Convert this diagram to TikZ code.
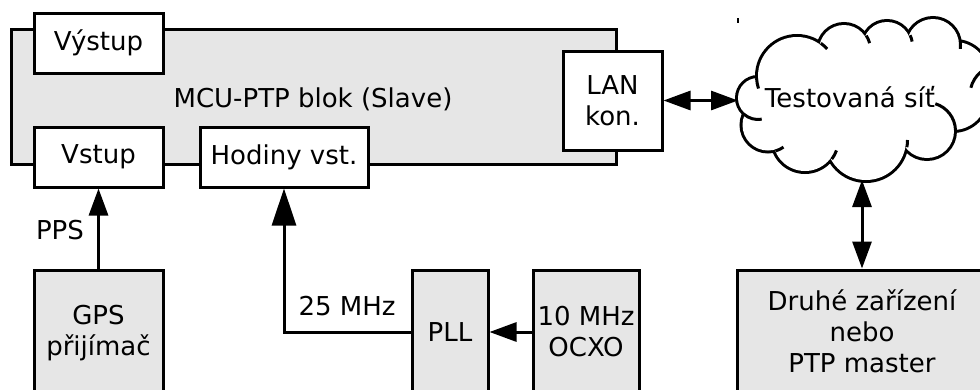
\documentclass[tikz,border=0pt]{standalone}
\usepackage{fontspec}
\setmainfont{DejaVu Sans}
\usetikzlibrary{arrows.meta}
\definecolor{blockgray}{HTML}{E6E6E6}
\begin{document}
\begin{tikzpicture}[x=1pt,y=-1pt,
  font=\fontsize{26}{31}\selectfont,
  box/.style={draw=black,line width=3pt,fill=white,inner sep=0pt,align=center},
  graybox/.style={box,fill=blockgray},
  arr/.style={line width=3pt,-{Triangle[length=27pt,width=19pt]}},
  bigarr/.style={line width=3pt,-{Triangle[length=37pt,width=24pt]}},
  darr/.style={line width=3pt,{Triangle[length=27pt,width=19pt]}-{Triangle[length=27pt,width=19pt]}},
  lbl/.style={inner sep=0pt},
  cloudline/.style={line width=3pt}]
\useasboundingbox (0,0) rectangle (980,389);
\clip (0,0) rectangle (980,389);

% MCU block
\node[graybox, minimum width=605pt, minimum height=135pt] (mcu) at (313.5,96.5) {};
\node[lbl] (mculbl) at (313,99) {MCU-PTP blok (Slave)};
\node[box, minimum width=129pt, minimum height=60pt] (vystup) at (98.5,43) {Výstup};
\node[box, minimum width=129pt, minimum height=60pt] (vstup) at (98.5,157) {Vstup};
\node[box, minimum width=168pt, minimum height=60pt] (hodiny) at (284,157) {Hodiny vst.};
\node[box, minimum width=99pt, minimum height=99pt] (lan) at (612.5,100.5) {LAN\\kon.};

% lower blocks
\node[graybox, minimum width=129pt, minimum height=126pt] (gps) at (98.5,333) {GPS\\přijímač};
\node[graybox, minimum width=76pt, minimum height=124pt] (pll) at (450,332) {PLL};
\node[graybox, minimum width=106pt, minimum height=124pt] (ocxo) at (586,332) {10 MHz\\OCXO};
\node[graybox, minimum width=250pt, minimum height=122pt] (druhe) at (862,331) {Druhé zařízení\\nebo\\PTP master};

% cloud
\foreach \cx/\cy/\r in {758/98/20, 797/76/39, 844/50/25, 887/46/24, 933/45/26, 955/75/33,
                        953/96/34, 927/131/27, 866/140/40, 805/139/32, 768/125/25.5}
  \draw[line width=6pt] (\cx,\cy) circle[radius=\r];
\foreach \cx/\cy/\r in {758/98/20, 797/76/39, 844/50/25, 887/46/24, 933/45/26, 955/75/33,
                        953/96/34, 927/131/27, 866/140/40, 805/139/32, 768/125/25.5}
  \fill[white] (\cx,\cy) circle[radius=\r];
\fill[white] (758,98) -- (797,76) -- (844,50) -- (887,46) -- (933,45) -- (955,75) -- (953,96)
  -- (927,131) -- (866,140) -- (805,139) -- (768,125) -- cycle;
\foreach \cx/\cy/\r/\a/\b in {797/76/40.5/177/162, 758/98/21.5/131/80, 768/125/27/74/55,
                              805/139/33.5/37/20, 797/76/40.5/306/318, 844/50/26.5/327/345,
                              887/46/25.5/335/350, 933/45/27.5/354/368, 927/131/28.5/-2/-73,
                              866/140/41.5/10/0, 1000/95/30/194/230}
  \draw[cloudline] (\cx,\cy) ++(\a:\r) arc[start angle=\a, end angle=\b, radius=\r];
\draw[line width=1.5pt] (738,18) -- (738,23);
\coordinate (cloudW) at (738,100);
\coordinate (cloudS) at (862,180);
\node[lbl] (cloudlbl) at (850,97) {Testovaná síť};

% connectors
\draw[arr] (gps.north) -- (vstup.south);
\draw[bigarr] (pll.west) -| (hodiny.south);
\draw[arr] (ocxo.west) -- (pll.east);
\draw[darr] (lan.east) -- (lan.east -| cloudW);
\draw[darr] (cloudS) -- (druhe.north);

% labels
\node[lbl] (pps) at (60,230) {PPS};
\node[lbl] (mhz) at (347,306) {25 MHz};
\end{tikzpicture}
\end{document}
